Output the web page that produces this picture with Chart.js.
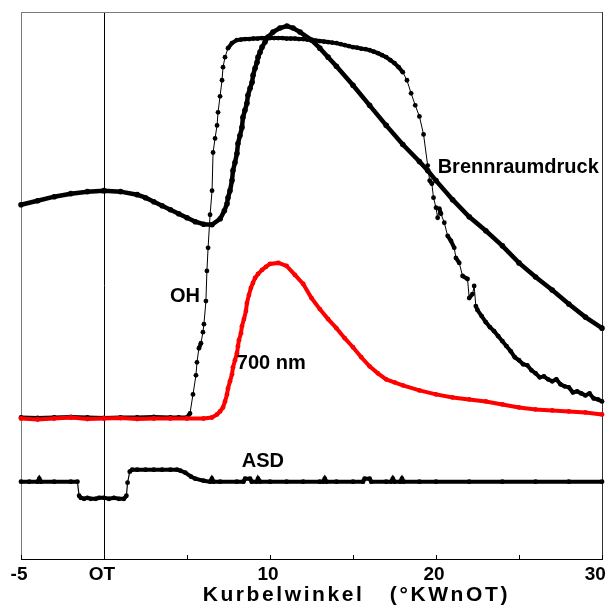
<!DOCTYPE html>
<html>
<head>
<meta charset="utf-8">
<script src="https://cdn.jsdelivr.net/npm/chart.js@4.4.1/dist/chart.umd.min.js"></script>
<style>
  html, body { margin: 0; padding: 0; background: #fff; }
  canvas { display: block; }
</style>
</head>
<body>
<canvas id="c" width="606" height="616"></canvas>
<script>
// Crank angle in °KW after TDC; signals in arbitrary units.

// Combustion chamber pressure
const pressureAngle = [-5,-4,-3,-2,-1,0,1,2,2.5,3,3.5,4,4.5,5,5.5,6,6.5,7,
  7.25,7.41,7.47,7.59,7.71,7.77,7.89,8.01,8.07,8.19,
  8.31,8.37,8.49,8.61,8.67,8.8,8.92,8.98,9.1,9.22,
  9.28,9.4,9.52,9.7,9.88,10.18,10.6,11.02,11.39,11.81,
  12.5,13,13.5,14,15,16,17,18,19,19.5,
  20,21,22,23,24,25,26,27,28,29,30];
const pressureSignal = [70.6,71.4,72.2,72.8,73.2,73.4,73.2,72.6,72.0,71.2,70.4,69.6,68.8,68.0,67.2,66.7,66.6,67.8,
  69.4,70.8,72.0,73.4,75.4,77.4,79.0,80.8,82.8,84.4,
  86.0,88.0,89.4,90.8,92.4,93.8,95.0,96.4,97.8,99.0,
  100.0,101.0,102.0,103.0,104.0,105.0,105.8,106.2,105.8,105.0,
  103.4,101.8,100.0,98.2,94.4,90.4,86.4,82.6,79.2,77.4,
  75.4,71.6,68.2,65.4,62.4,59.0,56.2,53.6,50.8,48.2,46.0];

// OH chemiluminescence
const ohAngle = [-5,-4,-3,-2,-1,0,1,2,3,4,4.5,5,
  5.18,5.36,5.54,5.6,5.72,5.84,5.96,6.02,6.14,6.2,6.27,6.39,6.51,6.57,6.69,6.81,6.87,6.99,7.11,7.17,7.29,7.47,7.71,
  8,8.25,8.5,8.75,9,9.25,9.5,9.75,10,10.25,10.5,10.75,11,11.25,11.5,11.75,12,12.25,12.5,12.75,
  13,13.25,13.5,13.75,14,14.25,14.5,14.75,15,15.25,15.5,15.75,16,16.25,16.5,16.75,17,
  17.25,17.5,17.75,18,18.25,18.5,18.75,19,19.25,19.5,
  19.62,19.75,19.85,20,20.1,20.2,20.3,20.5,20.7,20.9,21.1,21.2,21.4,21.6,21.9,22,22.2,22.3,22.4,22.5,
  22.75,23,23.25,23.5,23.75,24,24.25,24.5,24.75,25,25.25,25.5,25.75,26,26.25,26.5,26.75,27,27.25,27.5,
  27.75,28,28.25,28.5,28.75,29,29.25,29.5,29.75,30];
const ohSignal = [28.2,28.1,28.2,28.3,28.2,28.1,28.2,28.2,28.3,28.2,28.2,28.2,
  29.0,32.8,36.6,39.2,42.0,43.0,45.2,46.8,51.4,57.4,62.0,68.6,73.4,81.0,83.8,86.4,89.0,92.2,95.4,98.0,100.0,101.8,102.8,
  103.4,103.5,103.6,103.6,103.7,103.7,103.8,103.8,103.8,103.8,103.8,103.8,103.7,103.7,103.7,103.6,103.6,103.5,103.4,103.3,
  103.2,103.1,103.0,102.9,102.8,102.6,102.4,102.2,102.0,101.9,101.7,101.6,101.4,101.1,100.8,100.4,100.0,
  99.4,98.8,98.0,97.0,95.4,92.8,90.4,88.2,84.6,78.4,
  75.4,74.8,72.0,70.0,68.0,69.8,68.8,67.0,64.4,63.4,62.0,60.0,59.0,56.4,55.8,52.0,52.8,54.4,50.4,49.6,
  48.4,47.2,46.2,45.4,44.4,43.4,42.4,41.4,40.2,39.6,38.8,38.6,37.6,37.0,36.2,36.4,35.8,35.4,35.8,34.8,
  34.4,34.2,33.2,33.4,33.0,32.6,33.0,32.0,31.8,31.4];

// Soot luminosity at 700 nm
const redAngle = [-5,-4,-3,-2,-1,0,1,2,3,4,5,6,
  6.5,6.81,6.99,7.17,7.29,7.41,7.47,7.59,7.71,7.77,
  7.89,8.01,8.07,8.13,8.25,8.31,8.43,8.55,8.61,8.73,
  8.85,8.97,9.1,9.28,9.52,9.75,10,10.5,11,11.5,
  12,12.5,13,13.5,14,14.5,15,15.5,16,16.5,
  17,17.5,18,19,20,21,22,23,24,25,26,27,28,29,30];
const redSignal = [28.0,27.8,28.0,28.2,27.9,28.0,28.1,27.9,28.0,28.0,28.0,28.0,
  28.2,28.8,29.4,30.2,31.4,32.8,34.0,35.4,36.8,38.2,
  39.6,41.0,42.4,43.6,45.0,46.4,47.8,49.4,51.0,52.6,
  54.0,55.0,56.0,56.8,57.6,58.2,58.8,59.0,58.4,56.6,
  54.8,52.0,49.8,47.8,46.0,44.0,42.2,40.2,38.4,37.0,
  35.8,35.2,34.6,33.6,32.8,32.2,31.8,31.4,30.8,30.2,29.8,29.6,29.4,29.2,28.8];

// ASD signal
const asdAngle = [-5,-4.5,-4,-3.9,-3.8,-3,-2,-1.6,-1.5,-1.4,
  -1.2,-1,-0.8,-0.5,-0.3,0,0.3,0.6,0.9,1.2,
  1.35,1.42,1.55,1.7,2,2.5,3,3.5,4,4.4,
  4.6,4.9,5.25,5.5,6,6.4,6.5,6.6,7,8,
  8.4,8.5,8.8,8.9,9.2,9.28,9.4,10,11,12,
  13,13.2,13.3,13.4,14,15,15.6,15.7,16,16.1,
  17,17.3,17.4,17.5,17.85,17.95,18.05,19,20,22,
  24,26,28,30];
const asdSignal = [15.4,15.4,15.4,16.0,15.4,15.4,15.4,15.4,12.6,12.2,
  12.0,12.2,12.0,12.0,12.2,12.2,12.0,12.2,12.0,12.0,
  12.6,15.2,17.4,17.8,17.8,17.8,17.8,17.8,17.8,17.8,
  17.6,17.2,16.4,16.0,15.6,15.4,16.0,15.4,15.4,15.4,
  15.4,16.0,16.0,15.4,15.4,16.0,15.4,15.4,15.4,15.4,
  15.4,15.4,16.0,15.4,15.4,15.4,15.4,16.0,16.0,15.4,
  15.4,15.4,16.0,15.4,15.4,16.0,15.4,15.4,15.4,15.4,
  15.4,15.4,15.4,15.4];

// Axis ticks
const tickValues = [-5, 0, 10, 20, 30];
const tickLabels = ['-5', 'OT', '10', '20', '30\u2002'];
const axisTitle = 'Kurbelwinkel   (°KWnOT)';

// Curve labels and where they sit (angle, signal)
const curveNames = ['Brennraumdruck', 'OH', '700 nm', 'ASD'];
const curveNameAngle = [20.1, 3.98, 8.0, 8.3];
const curveNameSignal = [78.1, 52.3, 39.0, 19.4];

const FONT = '"Liberation Sans", Arial, sans-serif';

const toPoints = (xs, ys) => xs.map((x, i) => ({ x, y: ys[i] }));

// thin connector on steep steps, thick trace where samples crowd together
const traceWidth = (thick, thin, limit) => c =>
  Math.abs(c.p1.parsed.y - c.p0.parsed.y) > limit ? thin : thick;

const decor = {
  id: 'decor',
  beforeDatasetsDraw(chart) {
    const { ctx, chartArea: a, scales: { x } } = chart;
    ctx.save();
    // plot frame
    ctx.fillStyle = '#7a7a7a';
    ctx.fillRect(a.left, a.top, a.right - a.left, 1);
    ctx.fillRect(a.left, a.top, 1, a.bottom - a.top);
    ctx.fillStyle = '#333';
    ctx.fillRect(a.right, a.top, 1, a.bottom - a.top + 1);
    ctx.fillStyle = '#000';
    ctx.fillRect(a.left, a.bottom, a.right - a.left + 1, 1);
    // inward tick marks on the angle axis
    x.ticks.forEach(t => {
      const px = Math.round(x.getPixelForValue(t.value));
      ctx.fillRect(px, a.bottom - 4, 1, 4);
    });
    ctx.restore();
  },
  afterDatasetsDraw(chart) {
    const { ctx, chartArea: a, scales: { x, y } } = chart;
    ctx.save();
    ctx.fillStyle = '#000';
    ctx.font = 'bold 20px ' + FONT;
    ctx.textAlign = 'left';
    ctx.textBaseline = 'middle';
    curveNames.forEach((name, i) => {
      ctx.fillText(name, x.getPixelForValue(curveNameAngle[i]), y.getPixelForValue(curveNameSignal[i]));
    });
    // axis title, letter-spaced
    ctx.font = 'bold 21px ' + FONT;
    ctx.textAlign = 'center';
    if ('letterSpacing' in ctx) ctx.letterSpacing = '2.6px';
    ctx.fillText(axisTitle, x.getPixelForValue(15.2), a.bottom + 36);
    ctx.restore();
  }
};

new Chart(document.getElementById('c'), {
  type: 'line',
  data: {
    datasets: [
      {
        label: '700 nm', data: toPoints(redAngle, redSignal), order: 0,
        borderColor: '#ff0000', backgroundColor: '#ff0000', borderWidth: 4,
        pointRadius: 2.4, pointBorderWidth: 0, pointBackgroundColor: '#ff0000'
      },
      {
        label: 'OH', data: toPoints(ohAngle, ohSignal), order: 1,
        borderColor: '#000', backgroundColor: '#000', borderWidth: 1,
        pointRadius: 2.4, pointBorderWidth: 0, pointBackgroundColor: '#000',
        segment: { borderWidth: traceWidth(4, 1, 1.5) }
      },
      {
        label: 'Brennraumdruck', data: toPoints(pressureAngle, pressureSignal), order: 2,
        borderColor: '#000', backgroundColor: '#000', borderWidth: 4.5,
        pointRadius: 2.8, pointBorderWidth: 0, pointBackgroundColor: '#000'
      },
      {
        label: 'ASD', data: toPoints(asdAngle, asdSignal), order: 3,
        borderColor: '#000', backgroundColor: '#000', borderWidth: 4,
        pointRadius: 2.4, pointBorderWidth: 0, pointBackgroundColor: '#000',
        segment: { borderWidth: traceWidth(4, 1.2, 1.5) }
      }
    ]
  },
  options: {
    responsive: false,
    animation: false,
    parsing: false,
    normalized: true,
    layout: { padding: { left: 21, right: 4, top: 12, bottom: 26.2 } },
    plugins: { legend: { display: false }, tooltip: { enabled: false } },
    elements: { line: { tension: 0 } },
    datasets: { line: { clip: 4 } },
    scales: {
      x: {
        type: 'linear', min: -5, max: 30,
        border: { display: false },
        grid: {
          drawTicks: false,
          lineWidth: 1,
          color: c => (c.tick && c.tick.value === 0) ? '#000' : 'rgba(0,0,0,0)'
        },
        ticks: {
          stepSize: 5, autoSkip: false, maxRotation: 0, padding: 4, labelOffset: -2,
          color: '#000',
          font: { family: FONT, size: 19, weight: 'bold' },
          callback: v => { const i = tickValues.indexOf(v); return i >= 0 ? tickLabels[i] : ''; }
        },
        // let the end labels overhang instead of shrinking the plot
        afterFit: s => { s.paddingLeft = 0; s.paddingRight = 0; }
      },
      y: { display: false, min: 0, max: 109 }
    }
  },
  plugins: [decor]
});
</script>
</body>
</html>
